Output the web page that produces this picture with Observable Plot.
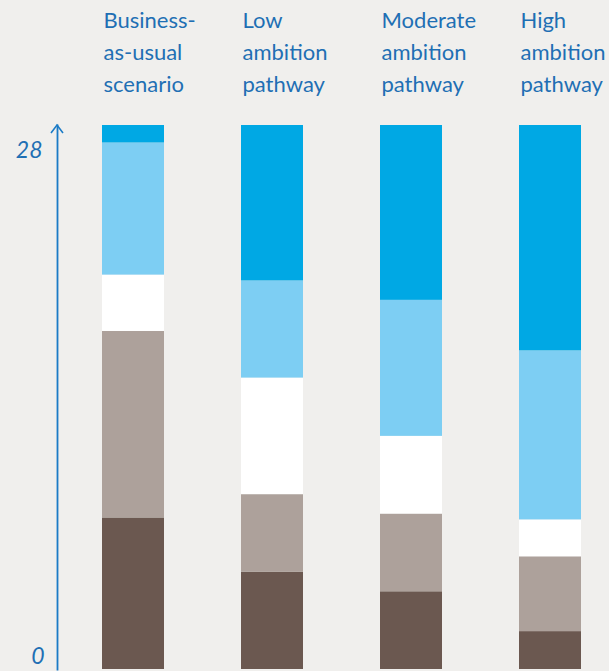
<!DOCTYPE html>
<html>
<head>
<meta charset="utf-8">
<script src="https://cdn.jsdelivr.net/npm/d3@7"></script>
<script src="https://cdn.jsdelivr.net/npm/@observablehq/plot@0.6"></script>
<style>
  html, body { margin: 0; padding: 0; background: #f0efed; }
  #chart svg { display: block; background: #f0efed; }
</style>
</head>
<body>
<div id="chart"></div>
<script>
// Scenario labels (x categories)
const scenarios = [
  "Business-\nas-usual\nscenario",
  "Low\nambition\npathway",
  "Moderate\nambition\npathway",
  "High\nambition\npathway"
];
// Stack layers, bottom to top
const layers = ["Layer 1 (dark brown)", "Layer 2 (grey)", "Layer 3 (white)", "Layer 4 (light blue)", "Layer 5 (blue)"];
const layerColors = ["#6b5850", "#ada19b", "#ffffff", "#7dcef3", "#00a8e4"];
// Values per layer, one per scenario
const layer1 = [7.8, 5.0, 4.0, 1.95];
const layer2 = [9.6, 4.0, 4.0, 3.85];
const layer3 = [2.9, 6.0, 4.0, 1.9];
const layer4 = [6.8, 5.0, 7.0, 8.7];
const layer5 = [0.9, 8.0, 9.0, 11.6];
// Y tick labels
const yTicks = [0, 28];

const layerValues = [layer1, layer2, layer3, layer4, layer5];
const rows = [];
layers.forEach((layer, li) => {
  scenarios.forEach((s, si) => rows.push({scenario: s, layer, value: layerValues[li][si]}));
});

const blueText = "#1f6fb4";
const axisBlue = "#1b7bc6";

const arrowHead = (index, scales, values, dimensions) => {
  const x = dimensions.marginLeft;
  const y = scales.y(28);
  return d3.create("svg:path")
    .attr("d", `M${x - 6},${y + 8}L${x},${y}L${x + 6},${y + 8}`)
    .attr("fill", "none")
    .attr("stroke", axisBlue)
    .attr("stroke-width", 1.6)
    .node();
};

const chart = Plot.plot({
  width: 609,
  height: 671,
  marginLeft: 57,
  marginRight: 0,
  marginTop: 125,
  marginBottom: 2,
  style: {background: "#f0efed", fontFamily: "Lato, 'Open Sans', sans-serif"},
  x: {domain: scenarios, axis: null, paddingInner: 0.554, paddingOuter: 0.2626, align: 0.616},
  y: {domain: [0, 28], axis: null},
  color: {domain: layers, range: layerColors},
  marks: [
    Plot.barY(rows, {x: "scenario", y: "value", fill: "layer", order: layers}),
    Plot.frame({anchor: "left", stroke: axisBlue, strokeWidth: 1.8}),
    arrowHead,
    Plot.text(scenarios, {
      x: d => d, text: d => d, frameAnchor: "top", lineAnchor: "top",
      textAnchor: "start", dx: -30, dy: -120, lineHeight: 1.45,
      fontSize: 22, fill: blueText
    }),
    Plot.text([yTicks[1]], {
      y: d => d, text: d => String(d), frameAnchor: "left", textAnchor: "end",
      dx: -15, dy: 25, fontSize: 23, fontStyle: "italic", fill: blueText
    }),
    Plot.text([yTicks[0]], {
      y: d => d, text: d => String(d), frameAnchor: "left", textAnchor: "end",
      dx: -13, dy: -13, fontSize: 23, fontStyle: "italic", fill: blueText
    })
  ]
});
document.getElementById("chart").appendChild(chart);
</script>
</body>
</html>
